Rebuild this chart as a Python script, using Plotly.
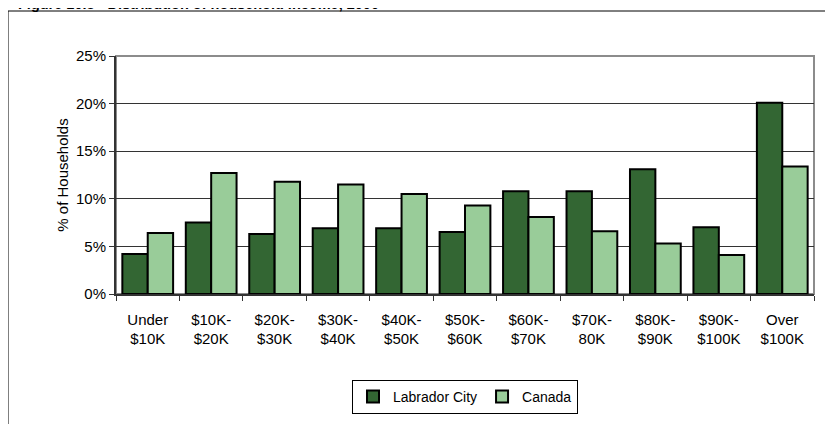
import plotly.graph_objects as go

categories = ["Under<br>$10K", "$10K-<br>$20K", "$20K-<br>$30K", "$30K-<br>$40K", "$40K-<br>$50K",
              "$50K-<br>$60K", "$60K-<br>$70K", "$70K-<br>80K", "$80K-<br>$90K", "$90K-<br>$100K",
              "Over<br>$100K"]
labrador_city = [4.2, 7.5, 6.3, 6.9, 6.9, 6.5, 10.8, 10.8, 13.1, 7.0, 20.1]
canada = [6.4, 12.7, 11.8, 11.5, 10.5, 9.3, 8.1, 6.6, 5.3, 4.1, 13.4]
y_ticks = [0, 5, 10, 15, 20, 25]
title_text = "Figure 10.3 - Distribution of household income, 2000"

FONT = "Liberation Sans, Arial, sans-serif"

fig = go.Figure()
fig.add_trace(go.Bar(name="Labrador City", x=categories, y=labrador_city,
                     marker=dict(color="#336633", line=dict(color="black", width=2))))
fig.add_trace(go.Bar(name="Canada", x=categories, y=canada,
                     marker=dict(color="#99CC99", line=dict(color="black", width=2))))

W, H = 833, 424
DX, DY = 7, 7  # page offset of the figure in the screenshot
L, R, T, B = 115 - DX, 20 + DX, 55 - DY, 131 + DY
pw, ph = W - L - R, H - T - B

def px_x(p):
    return (p - DX - L) / pw

def px_y(p):
    return (H - B - (p - DY)) / ph

fig.update_layout(
    width=W, height=H,
    margin=dict(l=L, r=R, t=T, b=B),
    paper_bgcolor="white", plot_bgcolor="white",
    barmode="group", bargap=0.2, bargroupgap=0,
    font=dict(family=FONT, size=15, color="black"),
    legend=dict(orientation="h", x=0.5, xanchor="center", y=px_y(396), yanchor="middle",
                bordercolor="black", borderwidth=1, bgcolor="white",
                font=dict(family=FONT, size=14), itemclick=False, itemwidth=30),
    xaxis=dict(showline=True, linecolor="#333333", linewidth=1.5, ticks="outside",
               tickson="boundaries", ticklen=5, tickcolor="#333333", showgrid=False,
               tickfont=dict(size=15), ticklabelstandoff=11, fixedrange=True),
    yaxis=dict(range=[0, 25], tickvals=y_ticks, ticktext=[f"{v}%" for v in y_ticks],
               showline=True, linecolor="#333333", linewidth=2, ticks="outside", ticklen=5,
               tickcolor="#333333", showgrid=True, gridcolor="#333333", gridwidth=1,
               zeroline=False, tickfont=dict(size=15), fixedrange=True,
               title=dict(text="% of Households", font=dict(size=15), standoff=4)),
    annotations=[
        dict(text=f"<b>{title_text}</b>", xref="paper", yref="paper",
             x=px_x(15), y=px_y(13), xanchor="left", yanchor="bottom", showarrow=False,
             font=dict(family=FONT, size=14.5, color="black")),
    ],
    shapes=[
        dict(type="rect", xref="paper", yref="paper", x0=0, x1=1, y0=0, y1=1,
             line=dict(color="#8c8c8c", width=2), layer="below"),
        dict(type="rect", xref="paper", yref="paper", x0=px_x(7), x1=px_x(W + 20),
             y0=px_y(H + 20), y1=px_y(10), line=dict(color="black", width=1), layer="below"),
    ],
)

fig.write_html("out.html")
